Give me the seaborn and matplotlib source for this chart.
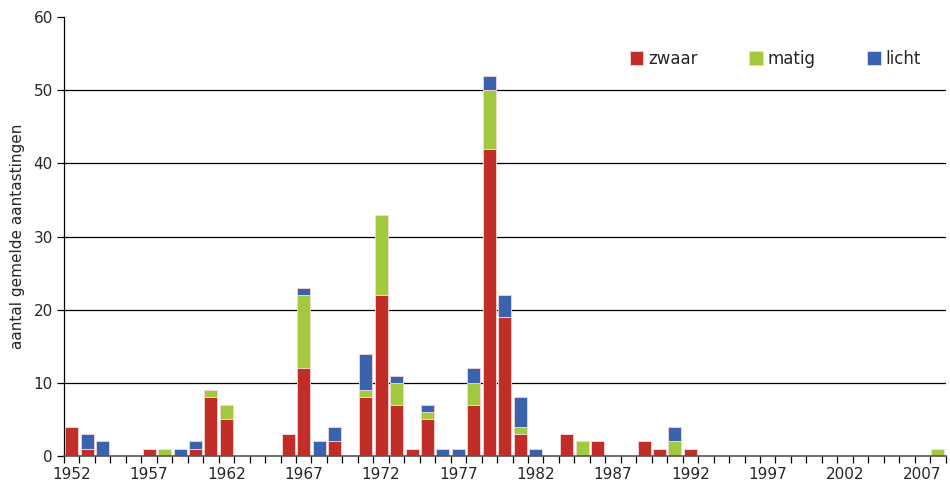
import numpy as np
import pandas as pd
import matplotlib
matplotlib.use('Agg')
import matplotlib.pyplot as plt
import seaborn as sns

years = list(range(1952, 2009))

# counts per year, 1952..2008 (index = year - 1952)
zwaar = [4, 1, 0, 0, 0, 1, 0, 0, 1, 8,
         5, 0, 0, 0, 3, 12, 0, 2, 0, 8,
         22, 7, 1, 5, 0, 0, 7, 42, 19, 3,
         0, 0, 3, 0, 2, 0, 0, 2, 1, 0,
         1, 0, 0, 0, 0, 0, 0, 0, 0, 0,
         0, 0, 0, 0, 0, 0, 0]
matig = [0, 0, 0, 0, 0, 0, 1, 0, 0, 1,
         2, 0, 0, 0, 0, 10, 0, 0, 0, 1,
         11, 3, 0, 1, 0, 0, 3, 8, 0, 1,
         0, 0, 0, 2, 0, 0, 0, 0, 0, 2,
         0, 0, 0, 0, 0, 0, 0, 0, 0, 0,
         0, 0, 0, 0, 0, 0, 1]
licht = [0, 2, 2, 0, 0, 0, 0, 1, 1, 0,
         0, 0, 0, 0, 0, 1, 2, 2, 0, 5,
         0, 1, 0, 1, 1, 1, 2, 2, 3, 4,
         1, 0, 0, 0, 0, 0, 0, 0, 0, 2,
         0, 0, 0, 0, 0, 0, 0, 0, 0, 0,
         0, 0, 0, 0, 0, 0, 0]

series = ['zwaar', 'matig', 'licht']
colors = {'zwaar': '#C12D27', 'matig': '#A3C93E', 'licht': '#3A63AD'}

df = pd.DataFrame({'jaar': [str(y) for y in years],
                   'zwaar': zwaar, 'matig': matig, 'licht': licht})

sns.set_style('white')
plt.rcParams['font.family'] = ['DejaVu Sans']
plt.rcParams['font.size'] = 11

fig = plt.figure(figsize=(9.5, 4.91), dpi=100)
ax = fig.add_axes([0.0674, 0.0713, 0.928, 0.894])

bottom = np.zeros(len(years))
for name in series:
    sns.barplot(data=df, x='jaar', y=name, ax=ax, color=colors[name],
                width=0.84, bottom=bottom, label=name,
                edgecolor='#F4D8D6', linewidth=0.6, saturation=1)
    bottom = bottom + df[name].values

ax.set_xlim(-0.5, len(years) - 0.5)
ax.set_ylim(0, 60)
ax.set_yticks(range(0, 61, 10))
# horizontal gridlines, none at the top
ax.hlines(range(10, 60, 10), -0.5, len(years) - 0.5, colors='black',
          linewidth=0.9, zorder=0)

ax.set_xticks(range(0, len(years), 5))
ax.set_xticklabels([str(y) for y in years[::5]])
ax.set_xticks(np.arange(-0.5, len(years)), minor=True)
ax.tick_params(axis='x', which='major', length=0, pad=8, labelsize=11)
ax.tick_params(axis='x', which='minor', length=5, width=0.9, direction='out',
               color='black', bottom=True)
ax.tick_params(axis='y', length=5, width=0.9, direction='out', color='black',
               left=True, labelsize=11, pad=3)

ax.set_xlabel('')
ax.set_ylabel('aantal gemelde aantastingen', fontsize=11, labelpad=6)

for s in ['top', 'right']:
    ax.spines[s].set_visible(False)
ax.spines['left'].set_color('black')
ax.spines['left'].set_linewidth(0.9)
ax.spines['bottom'].set_color('#555555')
ax.spines['bottom'].set_linewidth(1.2)

handles, labels = ax.get_legend_handles_labels()
ax.legend(handles[:3], labels[:3], loc='center', bbox_to_anchor=(0.807, 0.905),
          ncol=3, frameon=False, handlelength=0.8, handleheight=0.9,
          handletextpad=0.3, columnspacing=3.1, fontsize=12)

fig.savefig('out.png', dpi=100)
